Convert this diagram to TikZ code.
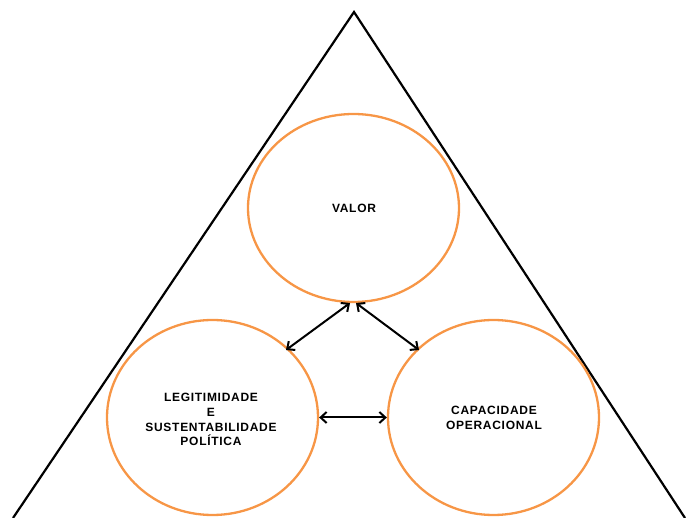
\documentclass[tikz,border=0pt]{standalone}
\usepackage{fontspec}
\setmainfont{Liberation Sans}
\newfontfamily\lbl[LetterSpace=6]{Liberation Sans}
\usetikzlibrary{shapes.geometric,arrows.meta}
\definecolor{circorange}{HTML}{F79646}
\begin{document}
\begin{tikzpicture}[x=1pt,y=-1pt,
  circ/.style={draw=circorange,line width=2.3pt,ellipse,inner sep=0pt},
  lab/.style={font=\lbl\bfseries\fontsize{12}{14.8}\selectfont,align=center,text=black},
  dbl/.style={line width=2pt,{Straight Barb[length=6pt,width=11pt]}-{Straight Barb[length=6pt,width=11pt]}}]
\useasboundingbox (0,0) rectangle (686,518);
\coordinate (apex) at (354,12);
\coordinate (bl) at (13,518);
\coordinate (br) at (685,518);
\draw[line width=2.2pt] (bl) -- (apex) -- (br);
\node[circ,minimum width=211pt,minimum height=188pt] (valor) at (353.5,208) {};
\node[circ,minimum width=211pt,minimum height=195pt] (legit) at (212.5,417.5) {};
\node[circ,minimum width=211pt,minimum height=195pt] (capac) at (493.5,417.5) {};
\node[lab] (tv) at (354,208) {VALOR};
\node[lab] (tl) at (211,419.5) {LEGITIMIDADE\\E\\SUSTENTABILIDADE\\POLÍTICA};
\node[lab] (tc) at (494,418) {CAPACIDADE\\OPERACIONAL};
\coordinate (vl) at (350,303);
\coordinate (vr) at (356,303);
\coordinate (ll) at (286,350);
\coordinate (cr) at (419,350);
\draw[dbl] (vl) -- (ll);
\draw[dbl] (vr) -- (cr);
\draw[dbl] (legit.east) -- (capac.west);
\end{tikzpicture}
\end{document}
